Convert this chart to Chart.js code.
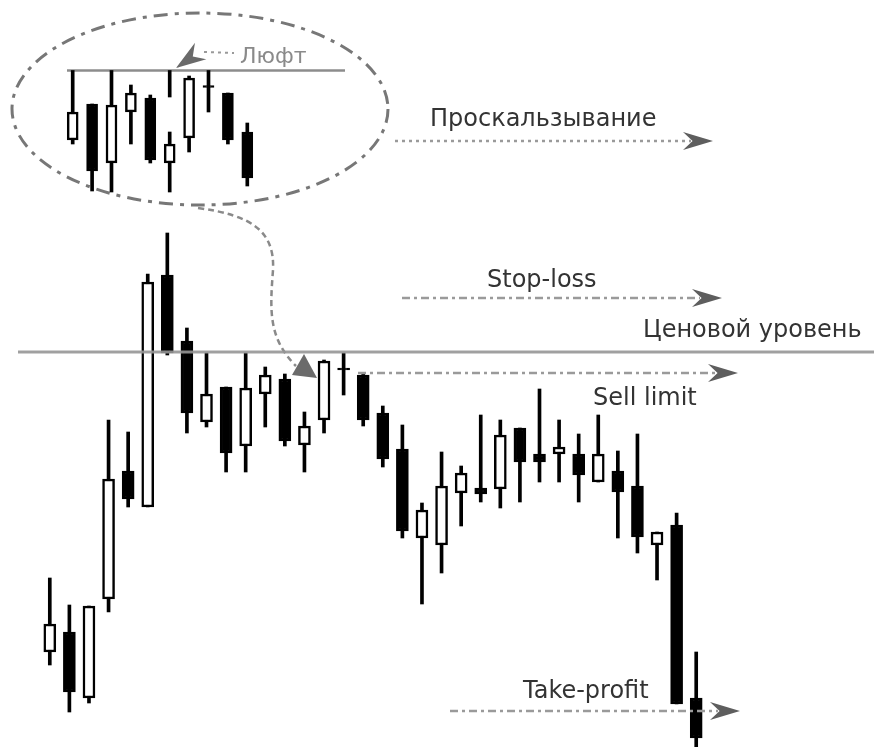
<!DOCTYPE html>
<html>
<head>
<meta charset="utf-8">
<script src="https://cdn.jsdelivr.net/npm/chart.js@4.4.0/dist/chart.umd.min.js"></script>
<style>
  html, body { margin: 0; padding: 0; background: #fff; overflow: hidden; }
  #wrap { position: relative; width: 874px; height: 747px; }
  #mainChart { position: absolute; left: 0; top: 0; }
  #insetChart { position: absolute; left: 63px; top: 60px; }
</style>
</head>
<body>
<div id="wrap">
  <canvas id="mainChart" width="874" height="747"></canvas>
  <canvas id="insetChart" width="290" height="140"></canvas>
</div>
<script>
// main candles (price units)
const openP  = [109.5, 111.5, 104.9, 114.8, 127.6, 124.0, 147.2, 140.6, 132.5, 136.0, 130.1, 135.3, 136.8, 130.2, 132.7, 137.9, 137.2,
                133.4, 129.8, 120.9, 120.2, 125.4, 125.9, 125.8, 131.9, 129.3, 129.3, 129.3, 126.5, 127.6, 126.1, 120.2, 122.2, 104.9];
const highP  = [116.9, 114.2, 114.1, 132.7, 131.5, 147.3, 151.4, 141.9, 139.4, 136.0, 139.4, 138.0, 137.3, 133.5, 138.7, 139.4, 137.4,
                134.1, 132.2, 124.4, 129.5, 128.1, 133.2, 132.7, 131.9, 135.8, 132.7, 131.3, 133.2, 129.6, 131.3, 121.5, 123.4, 109.5];
const lowP   = [108.2, 103.5, 104.4, 113.5, 124.0, 124.0, 139.2, 131.4, 132.0, 127.5, 127.5, 132.0, 130.1, 127.5, 131.4, 135.2, 132.1,
                128.0, 120.9, 114.3, 117.4, 122.1, 124.5, 123.9, 124.5, 126.5, 126.5, 124.5, 126.5, 120.9, 119.4, 116.7, 104.3, 99.0];
const closeP = [112.3, 105.5, 114.1, 126.8, 124.8, 146.5, 139.4, 133.4, 135.3, 129.4, 135.9, 137.2, 130.6, 132.1, 138.6, 137.7, 132.7,
                128.8, 121.6, 123.7, 126.1, 127.4, 125.3, 131.2, 128.5, 128.5, 130.0, 127.2, 129.3, 125.5, 121.0, 121.5, 104.3, 100.9];

// zoomed fragment inside the ellipse
const insetOpen  = [60, 96, 37, 88, 102, 37, 62, 114.5, 107, 68];
const insetHigh  = [129.5, 96, 129.5, 115, 105, 68, 124, 129.5, 107, 77];
const insetLow   = [56, 9, 8, 56, 37, 8, 48, 88, 56, 14];
const insetClose = [88, 29, 95, 107, 40, 56, 122, 112.5, 60, 22];
const insetLevel = 129.5;
const insetSpike = [null, null, null, null, null, [103, 129.5], null, null, null, null];

const levelNames  = ['Проскальзывание', 'Stop-loss', 'Ценовой уровень', 'Sell limit', 'Take-profit'];
const levelValues = [160.6, 144.9, 139.5, 137.4, 103.6];
const gapLabel = 'Люфт';

const FONT = '"DejaVu Sans", sans-serif';

function candleSets(o, h, l, c, bodyW, wickW) {
  const bodyColors = o.map((v, i) => c[i] < v ? '#000' : '#fff');
  return [
    {
      data: o.map((v, i) => [v, c[i]]),
      backgroundColor: bodyColors,
      borderColor: '#000',
      borderWidth: 2.5,
      borderSkipped: false,
      barThickness: bodyW,
      grouped: false
    },
    {
      data: l.map((v, i) => [v, h[i]]),
      backgroundColor: '#000',
      borderWidth: 0,
      barThickness: wickW,
      grouped: false
    }
  ];
}

function dart(ctx, x, y, ang, len, half, color) {
  ctx.save();
  ctx.translate(x, y);
  ctx.rotate(ang);
  ctx.beginPath();
  ctx.moveTo(0, 0);
  ctx.lineTo(-len, -half);
  ctx.lineTo(-len * 0.68, 0);
  ctx.lineTo(-len, half);
  ctx.closePath();
  ctx.fillStyle = color;
  ctx.fill();
  ctx.restore();
}

// x0, x1 = line start / arrow tip, tx = text left, dy = baseline offset from line
const levelStyle = [
  { x0: 395, x1: 713, dash: [3, 4], width: 2.5, tx: 430, dy: -15 },
  { x0: 402, x1: 722, dash: [8, 4, 3, 4], width: 2.5, tx: 487, dy: -11 },
  { x0: 18, x1: null, dash: [], width: 3, tx: 643, dy: -15 },
  { x0: 358, x1: 738, dash: [8, 4, 3, 4], width: 2.5, tx: 593, dy: 32 },
  { x0: 450, x1: 740, dash: [8, 4, 3, 4], width: 2.5, tx: 523, dy: -13 }
];

const annotations = {
  id: 'annotations',
  afterDatasetsDraw(chart) {
    const ctx = chart.ctx;
    const y = chart.scales.y;
    ctx.save();

    // ellipse around the zoomed fragment
    ctx.beginPath();
    ctx.ellipse(200, 109, 188, 96, 0, 0, Math.PI * 2);
    ctx.setLineDash([14, 7, 4, 7]);
    ctx.lineWidth = 3;
    ctx.strokeStyle = '#777';
    ctx.stroke();

    // connector from ellipse down to the entry
    ctx.beginPath();
    ctx.moveTo(198, 208);
    ctx.bezierCurveTo(250, 215, 275, 230, 273, 270);
    ctx.bezierCurveTo(270, 310, 268, 338, 296, 366);
    ctx.setLineDash([6, 4]);
    ctx.lineWidth = 2.5;
    ctx.strokeStyle = '#8a8a8a';
    ctx.stroke();
    ctx.setLineDash([]);

    // level lines and labels
    levelValues.forEach((v, i) => {
      const s = levelStyle[i];
      const py = y.getPixelForValue(v);
      ctx.beginPath();
      ctx.moveTo(s.x0, py);
      ctx.lineTo(s.x1 ? s.x1 - 22 : 874, py);
      ctx.setLineDash(s.dash);
      ctx.lineWidth = s.width;
      ctx.strokeStyle = s.x1 ? '#9a9a9a' : 'rgba(150,150,150,0.9)';
      ctx.stroke();
      ctx.setLineDash([]);
      if (s.x1) dart(ctx, s.x1, py, 0, 30, 9, '#5e5e5e');
      ctx.font = '24px ' + FONT;
      ctx.fillStyle = '#333';
      ctx.textBaseline = 'alphabetic';
      ctx.fillText(levelNames[i], s.tx, py + s.dy);
    });

    // entry marker
    ctx.beginPath();
    ctx.moveTo(292, 375);
    ctx.lineTo(304, 354);
    ctx.lineTo(317, 378);
    ctx.closePath();
    ctx.fillStyle = '#6b6b6b';
    ctx.fill();

    // gap label inside the ellipse
    ctx.beginPath();
    ctx.moveTo(204, 52);
    ctx.lineTo(234, 53);
    ctx.setLineDash([3, 4]);
    ctx.lineWidth = 2;
    ctx.strokeStyle = '#999';
    ctx.stroke();
    ctx.setLineDash([]);
    dart(ctx, 176, 68, Math.atan2(18, -26), 30, 10, '#6a6a6a');
    ctx.font = '22px ' + FONT;
    ctx.fillStyle = '#8a8a8a';
    ctx.fillText(gapLabel, 240, 63);

    ctx.restore();
  }
};

const insetLine = {
  id: 'insetLine',
  beforeDatasetsDraw(chart) {
    const ctx = chart.ctx;
    const py = chart.scales.y.getPixelForValue(insetLevel);
    ctx.save();
    ctx.beginPath();
    ctx.moveTo(4, py);
    ctx.lineTo(282, py);
    ctx.lineWidth = 2.5;
    ctx.strokeStyle = '#8c8c8c';
    ctx.stroke();
    ctx.restore();
  }
};

const baseOptions = {
  responsive: false,
  animation: false,
  events: [],
  plugins: { legend: { display: false }, tooltip: { enabled: false } }
};

new Chart(document.getElementById('mainChart'), {
  type: 'bar',
  data: {
    labels: openP.map((_, i) => i + 1),
    datasets: candleSets(openP, highP, lowP, closeP, 12, 3)
  },
  options: {
    ...baseOptions,
    layout: { padding: { left: 40, right: 168, top: 0, bottom: 0 } },
    scales: {
      x: { display: false, offset: true },
      y: { display: false, min: 100, max: 174.7 }
    }
  },
  plugins: [annotations]
});

const insetSets = candleSets(insetOpen, insetHigh, insetLow, insetClose, 11, 3);
insetSets.push({
  data: insetSpike,
  backgroundColor: '#000',
  borderWidth: 0,
  barThickness: 3,
  grouped: false
});

new Chart(document.getElementById('insetChart'), {
  type: 'bar',
  data: {
    labels: insetOpen.map((_, i) => i + 1),
    datasets: insetSets
  },
  options: {
    ...baseOptions,
    layout: { padding: { left: 0, right: 96, top: 0, bottom: 0 } },
    scales: {
      x: { display: false, offset: true },
      y: { display: false, min: 0, max: 140 }
    }
  },
  plugins: [insetLine]
});
</script>
</body>
</html>
